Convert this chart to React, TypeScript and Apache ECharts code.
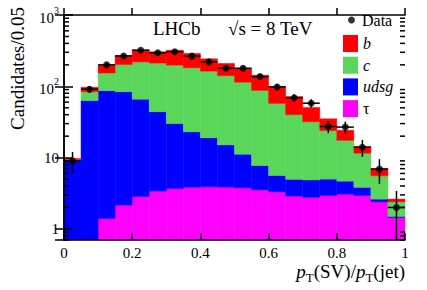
import React, { useEffect, useRef } from 'react';
import * as echarts from 'echarts';

// Histogram bins (lower edges), width 0.05
const binLow = [0, 0.05, 0.1, 0.15, 0.2, 0.25, 0.3, 0.35, 0.4, 0.45, 0.5, 0.55, 0.6, 0.65, 0.7, 0.75, 0.8, 0.85, 0.9, 0.95];
const binWidth = 0.05;

// Stacked template contributions (bottom to top: tau, udsg, c, b)
const tauVals = [0.72, 0.72, 1.4, 2.16, 2.85, 3.4, 3.7, 3.85, 3.9, 3.87, 3.78, 3.54, 3.32, 2.89, 2.77, 2.95, 3.08, 2.95, 2.4, 1.45];
const udsgVals = [8.4, 62.3, 85.6, 81.8, 63.2, 40.6, 26.3, 19.2, 15.1, 11.2, 7.4, 4.2, 2.3, 2.07, 2.1, 2.05, 1.6, 0.88, 0.22, 0.05];
const cVals = [0.3, 21, 67, 118, 154, 168, 168, 159, 144, 126, 103, 80, 52, 35, 27, 19, 12.8, 7.7, 2.95, 0.9];
const bVals = [0.3, 13, 43, 68, 105, 93, 123, 107, 80, 68, 64, 55, 42, 32, 18.6, 11, 6.7, 2.8, 1.5, 0.22];

// Data points
const dataVals = [9.0, 91, 200, 266, 320, 295, 305, 265, 220, 179, 179, 137, 98, 69, 58, 27.3, 26.8, 14.0, 6.9, 2.0];

// Tick labels
const xTickLabels = ['0', '0.2', '0.4', '0.6', '0.8', '1'];
const yTickLabels = ['1', '10', '{m|10}{s|2}', '{m|10}{s|3}'];

const Y_MIN = 0.7;
const Y_MAX = 1000;
const FONT = '"Liberation Serif", "Times New Roman", serif';

export default function App() {
  const ref = useRef<HTMLDivElement>(null);

  useEffect(() => {
    if (!ref.current) return;
    const chart = echarts.init(ref.current, undefined, { renderer: 'svg' });

    const components = [
      { name: 'τ', vals: tauVals, color: '#ff00ff' },
      { name: 'udsg', vals: udsgVals, color: '#0000ff' },
      { name: 'c', vals: cVals, color: '#5ad65a' },
      { name: 'b', vals: bVals, color: '#ff0000' },
    ];

    let cum = binLow.map(() => 0);
    const stackSeries = components.map((comp) => {
      const data = binLow.map((x, i) => {
        const lo = cum[i];
        const hi = lo + comp.vals[i];
        return [x, x + binWidth, lo, hi];
      });
      cum = cum.map((c, i) => c + comp.vals[i]);
      const color = comp.color;
      return {
        type: 'custom',
        name: comp.name,
        itemStyle: { color },
        encode: { x: [0, 1], y: [2, 3] },
        z: 2,
        data,
        renderItem: (params: any, api: any) => {
          const x0 = api.value(0);
          const x1 = api.value(1);
          const lo = api.value(2);
          const hi = api.value(3);
          if (hi <= Y_MIN) return null;
          const cs = params.coordSys;
          const yBottom = cs.y + cs.height;
          const pTL = api.coord([x0, hi]);
          const pTR = api.coord([x1, hi]);
          let yLo = lo <= Y_MIN ? yBottom : api.coord([x0, lo])[1];
          let yHi = Math.max(pTL[1], cs.y);
          yLo = Math.min(yLo, yBottom);
          return {
            type: 'rect',
            shape: { x: pTL[0], y: yHi, width: pTR[0] - pTL[0], height: yLo - yHi },
            style: { fill: color, stroke: color, lineWidth: 0.5 },
          };
        },
      };
    });

    const errData = binLow.map((x, i) => [x + binWidth / 2, dataVals[i], Math.sqrt(dataVals[i])]);

    const minorTickVals: number[] = [];
    for (let e = -1; e <= 2; e++) {
      for (let m = 2; m <= 9; m++) {
        const v = m * Math.pow(10, e);
        if (v >= Y_MIN && v <= Y_MAX) minorTickVals.push(v);
      }
    }

    const option: any = {
      animation: false,
      textStyle: { fontFamily: FONT, color: '#000' },
      grid: { left: 64, right: 22, top: 15, bottom: 50, containLabel: false },
      xAxis: [
        {
          type: 'value', min: 0, max: 1, interval: 0.2, position: 'bottom', z: 10,
          axisLine: { show: true, lineStyle: { color: '#000', width: 1.5 } },
          axisTick: { show: true, inside: true, length: 7, lineStyle: { color: '#000', width: 1.5 } },
          axisLabel: {
            show: true, margin: 5, fontSize: 15, fontFamily: FONT, color: '#000',
            formatter: (v: number) => xTickLabels[Math.round(v / 0.2)] ?? '',
          },
          splitLine: { show: false },
        },
        {
          type: 'value', min: 0, max: 1, interval: 0.2, position: 'top', z: 10,
          axisLine: { show: true, lineStyle: { color: '#000', width: 1.5 } },
          axisTick: { show: true, inside: false, length: 7, lineStyle: { color: '#000', width: 1.5 } },
          axisLabel: { show: false },
          splitLine: { show: false },
        },
      ],
      yAxis: [
        {
          type: 'log', logBase: 10, min: Y_MIN, max: Y_MAX, position: 'left', z: 10,
          axisLine: { show: true, lineStyle: { color: '#000', width: 1.5 } },
          axisTick: { show: true, inside: true, length: 9, lineStyle: { color: '#000', width: 1.5 } },
          axisLabel: {
            show: true, margin: 5, fontSize: 15, fontFamily: FONT, color: '#000',
            showMinLabel: false,
            formatter: (v: number) => {
              const l = Math.log10(v);
              const k = Math.round(l);
              if (Math.abs(l - k) > 1e-6) return '';
              return yTickLabels[k] ?? '';
            },
            rich: {
              m: { fontSize: 15, fontFamily: FONT, color: '#000', lineHeight: 20, verticalAlign: 'bottom' },
              s: { fontSize: 10, fontFamily: FONT, color: '#000', lineHeight: 10, verticalAlign: 'top' },
            },
          },
          splitLine: { show: false },
        },
        {
          type: 'log', logBase: 10, min: Y_MIN, max: Y_MAX, position: 'right', z: 10,
          axisLine: { show: true, lineStyle: { color: '#000', width: 1.5 } },
          axisTick: { show: true, inside: true, length: 9, lineStyle: { color: '#000', width: 1.5 } },
          axisLabel: { show: false },
          splitLine: { show: false },
        },
      ],
      legend: [
        {
          data: [{ name: 'Data', icon: 'circle' }],
          left: 348, top: 12, padding: 0, itemWidth: 7, itemHeight: 7, selectedMode: false,
          textStyle: { fontSize: 16, lineHeight: 16, fontFamily: FONT, color: '#000', padding: [0, 0, 0, 2] },
        },
        {
          data: ['b', 'c', 'udsg', 'τ'].map((n) => ({ name: n, icon: 'rect' })),
          orient: 'vertical', left: 343, top: 35, padding: 0, itemWidth: 15, itemHeight: 17, itemGap: 4.7, selectedMode: false,
          formatter: (n: string) => (n === 'τ' ? n : `{i|${n}}`),
          textStyle: {
            fontSize: 16, lineHeight: 17, fontFamily: FONT, color: '#000',
            rich: { i: { fontStyle: 'italic', fontSize: 16, lineHeight: 17, fontFamily: FONT, color: '#000' } },
          },
        },
      ],
      graphic: [
        { type: 'text', left: 153, top: 19, style: { text: 'LHCb', fontSize: 19, fontFamily: FONT, fill: '#000' } },
        { type: 'text', left: 228, top: 19, style: { text: '√s = 8 TeV', fontSize: 19, fontFamily: FONT, fill: '#000' } },
        {
          type: 'text', x: 17, y: 7, rotation: Math.PI / 2,
          style: { text: 'Candidates/0.05', fontSize: 19, fontFamily: FONT, fill: '#000', align: 'right', verticalAlign: 'middle' },
        },
        {
          type: 'text', x: 405, y: 271,
          style: {
            text: '{i|p}{t|T}(SV)/{i|p}{t|T}(jet)',
            fontSize: 19, fontFamily: FONT, fill: '#000', lineHeight: 26,
            align: 'right', verticalAlign: 'middle',
            rich: {
              i: { fontStyle: 'italic', fontSize: 19, fontFamily: FONT, fill: '#000', lineHeight: 26 },
              t: { fontSize: 13, fontFamily: FONT, fill: '#000', lineHeight: 13, verticalAlign: 'bottom' },
            },
          },
        },
      ],
      series: [
        ...stackSeries,
        {
          type: 'custom',
          name: 'errors',
          z: 4,
          data: errData,
          encode: { x: 0, y: 1 },
          renderItem: (params: any, api: any) => {
            const xc = api.value(0);
            const y = api.value(1);
            const e = api.value(2);
            const cs = params.coordSys;
            const pL = api.coord([xc - binWidth / 2, y]);
            const pR = api.coord([xc + binWidth / 2, y]);
            const lo = y - e;
            const yLoPx = lo <= Y_MIN ? cs.y + cs.height : api.coord([xc, lo])[1];
            const yHiPx = api.coord([xc, y + e])[1];
            const xm = (pL[0] + pR[0]) / 2;
            return {
              type: 'group',
              children: [
                { type: 'line', shape: { x1: pL[0], y1: pL[1], x2: pR[0], y2: pR[1] }, style: { stroke: '#000', lineWidth: 1.5 } },
                { type: 'line', shape: { x1: xm, y1: yLoPx, x2: xm, y2: yHiPx }, style: { stroke: '#000', lineWidth: 1.5 } },
              ],
            };
          },
        },
        {
          type: 'scatter',
          name: 'Data',
          z: 5,
          symbol: 'circle',
          symbolSize: 7,
          itemStyle: { color: '#000' },
          data: binLow.map((x, i) => [x + binWidth / 2, dataVals[i]]),
        },
        {
          type: 'custom',
          name: 'minorTicks',
          z: 10,
          silent: true,
          data: minorTickVals.map((v) => [0, v]),
          encode: { x: 0, y: 1 },
          renderItem: (params: any, api: any) => {
            const cs = params.coordSys;
            const y = api.coord([0, api.value(1)])[1];
            return {
              type: 'group',
              children: [
                { type: 'line', shape: { x1: cs.x, y1: y, x2: cs.x + 5, y2: y }, style: { stroke: '#000', lineWidth: 1.5 } },
                { type: 'line', shape: { x1: cs.x + cs.width - 5, y1: y, x2: cs.x + cs.width, y2: y }, style: { stroke: '#000', lineWidth: 1.5 } },
              ],
            };
          },
        },
      ],
    };

    chart.setOption(option);
    return () => chart.dispose();
  }, []);

  return (
    <div
      ref={ref}
      style={{ position: 'fixed', left: 0, top: 0, width: 427, height: 290, background: '#fff' }}
    />
  );
}
